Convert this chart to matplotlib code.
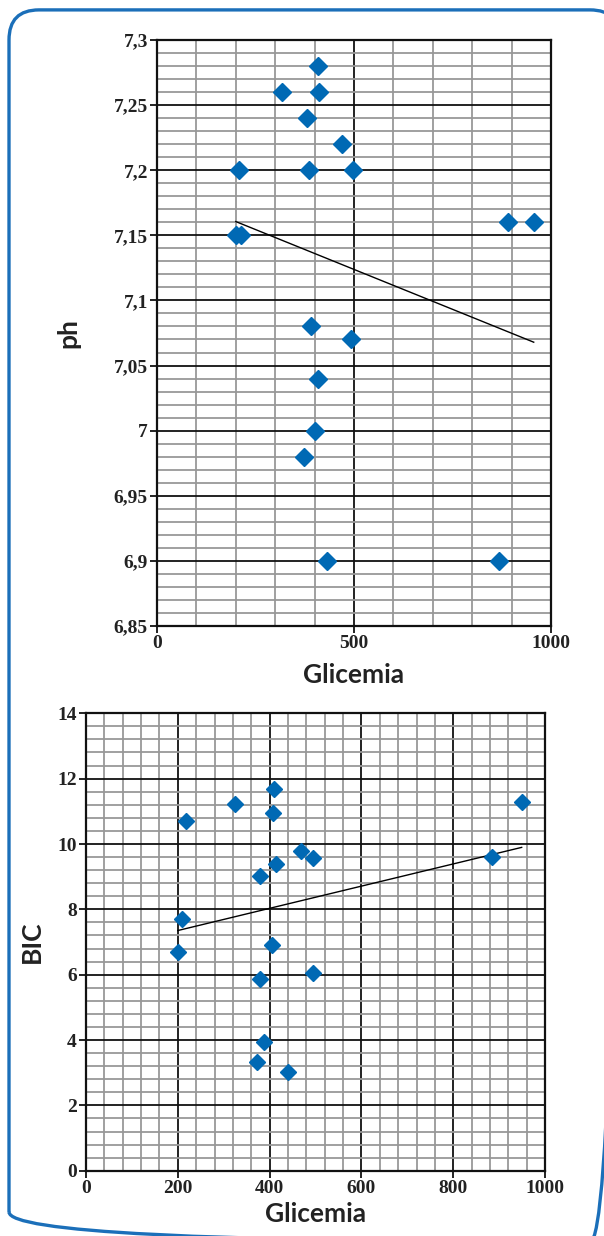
import matplotlib
matplotlib.use("Agg")
import matplotlib.pyplot as plt
import numpy as np
from matplotlib.patches import PathPatch
from matplotlib.path import Path
from matplotlib.ticker import MultipleLocator, FuncFormatter

# --- Données ---
glic_ph = [408, 316, 410, 381, 470, 208, 385, 497, 890, 956,
           200, 212, 391, 492, 408, 402, 374, 431, 868]
ph = [7.28, 7.26, 7.26, 7.24, 7.22, 7.20, 7.20, 7.20, 7.16, 7.16,
      7.15, 7.15, 7.08, 7.07, 7.04, 7.00, 6.98, 6.90, 6.90]

glic_bic = [410, 325, 407, 218, 949, 469, 494, 413, 378, 885,
            210, 200, 405, 494, 378, 387, 373, 439]
bic = [11.68, 11.23, 10.96, 10.71, 11.27, 9.78, 9.58, 9.39, 9.02, 9.60,
       7.70, 6.69, 6.90, 6.04, 5.86, 3.95, 3.32, 3.02]

BLUE = "#0069b4"
FRAME = "#1b6fb9"
SANS = ["Lato", "DejaVu Sans"]
W, H = 604, 1236

# graduations en serif gras, titres d'axes en sans gras
plt.rcParams.update({
    "font.family": ["Liberation Serif", "DejaVu Serif"],
    "font.weight": "bold",
    "xtick.labelsize": 14,
    "ytick.labelsize": 14,
    "xtick.color": "#222222",
    "ytick.color": "#222222",
})


def comma(v, _pos=None):
    return f"{v:g}".replace(".", ",")


def style(ax, xmaj, xmin, ymaj, ymin):
    ax.xaxis.set_major_locator(MultipleLocator(xmaj))
    ax.xaxis.set_minor_locator(MultipleLocator(xmin))
    ax.yaxis.set_major_locator(MultipleLocator(ymaj))
    ax.yaxis.set_minor_locator(MultipleLocator(ymin))
    ax.yaxis.set_major_formatter(FuncFormatter(comma))
    ax.grid(True, which="minor", color="#989898", linewidth=1.3, zorder=0)
    ax.grid(True, which="major", color="#111111", linewidth=1.3, zorder=1)
    ax.set_axisbelow(True)
    ax.tick_params(which="major", direction="out", length=5, width=1.3,
                   color="#111111", pad=1.5)
    ax.tick_params(which="minor", length=0)
    for s in ax.spines.values():
        s.set_color("#111111")
        s.set_linewidth(1.6)


def trend(ax, x, y):
    x = np.asarray(x, float)
    a, b = np.polyfit(x, y, 1)
    xs = np.array([x.min(), x.max()])
    ax.plot(xs, a * xs + b, color="black", linewidth=1.0, zorder=3)


def rounded_frame(fig, x0, y0, x1, y1, r):
    """Cadre arrondi en pixels, dans un axe invisible couvrant la figure."""
    bg = fig.add_axes([0, 0, 1, 1], zorder=-1)
    bg.set_xlim(0, W)
    bg.set_ylim(0, H)
    bg.axis("off")
    bg.set_in_layout(False)
    verts = [(x0, y0 + r), (x0, y1 - r), (x0, y1), (x0 + r, y1),
             (x1 - r, y1), (x1, y1), (x1, y1 - r),
             (x1, y0 + r), (x1, y0), (x1 - r, y0),
             (x0 + r, y0), (x0, y0), (x0, y0 + r)]
    codes = [Path.MOVETO, Path.LINETO, Path.CURVE3, Path.CURVE3,
             Path.LINETO, Path.CURVE3, Path.CURVE3,
             Path.LINETO, Path.CURVE3, Path.CURVE3,
             Path.LINETO, Path.CURVE3, Path.CURVE3]
    bg.add_patch(PathPatch(Path(verts, codes), fill=False, clip_on=True,
                           edgecolor=FRAME, linewidth=2.4))


fig = plt.figure(figsize=(6.041, 12.361), dpi=100)

# cadre bleu arrondi (bord droit et bas hors champ, comme l'original)
rounded_frame(fig, 9, -6, 620, H - 10, 30)

# --- Graphique 1 : ph ---
ax1 = fig.add_axes([0.2599, 0.4935, 0.6523, 0.4741])
ax1.set_xlim(0, 1000)
ax1.set_ylim(6.85, 7.3)
style(ax1, 500, 100, 0.05, 0.01)
ax1.plot(glic_ph, ph, linestyle="none", marker="D", markersize=9.5,
         color=BLUE, zorder=4)
trend(ax1, glic_ph, ph)
ax1.set_xlabel("Glicemia", family=SANS, fontweight="bold", fontsize=19,
               color="#222222", labelpad=8)
ax1.set_ylabel("ph", family=SANS, fontweight="bold", fontsize=19,
               color="#222222", labelpad=24)

# --- Graphique 2 : BIC ---
ax2 = fig.add_axes([0.1424, 0.0528, 0.7599, 0.3701])
ax2.set_xlim(0, 1000)
ax2.set_ylim(0, 14)
style(ax2, 200, 40, 2, 0.4)
ax2.plot(glic_bic, bic, linestyle="none", marker="D", markersize=7.8,
         color=BLUE, zorder=4)
trend(ax2, glic_bic, bic)
ax2.set_xlabel("Glicemia", family=SANS, fontweight="bold", fontsize=19,
               color="#222222", labelpad=4)
ax2.set_ylabel("BIC", family=SANS, fontweight="bold", fontsize=19,
               color="#222222", labelpad=10)

fig.savefig("out.png", dpi=100)
